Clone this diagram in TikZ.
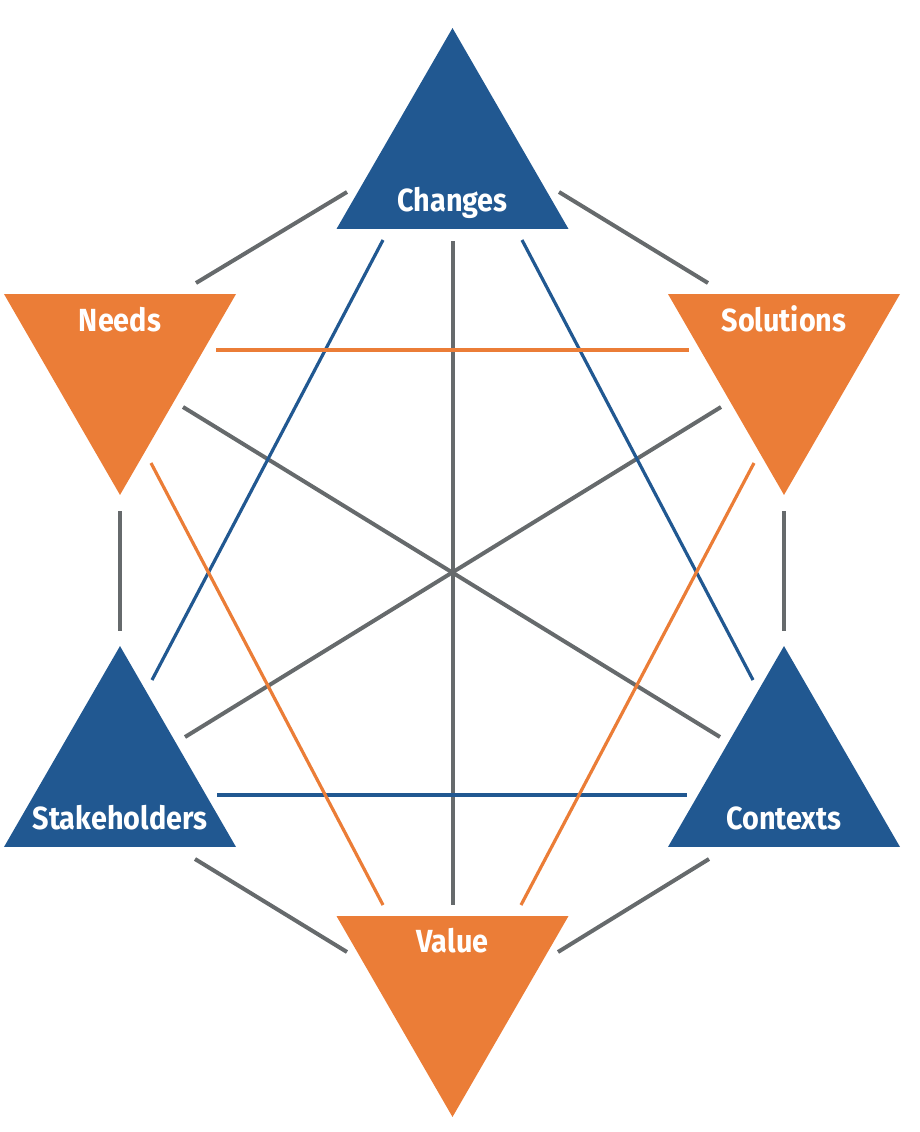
\documentclass[tikz,border=0pt]{standalone}
\usepackage{fontspec}
\setmainfont{Fira Sans}[FakeStretch=0.9]
\usetikzlibrary{shapes.geometric}
\definecolor{tblue}{HTML}{215891}
\definecolor{torange}{HTML}{EB7D37}
\definecolor{tgray}{HTML}{666A6C}
\tikzset{
  tri/.style={regular polygon, regular polygon sides=3, minimum size=267.9pt, inner sep=0pt, outer sep=0pt, draw=none},
  triup/.style={tri},
  tridown/.style={tri, shape border rotate=180},
  lbl/.style={anchor=base, text=white, inner sep=0pt, font=\fontsize{32}{38}\selectfont\bfseries},
  grayline/.style={draw=tgray, line width=4pt},
  blueline/.style={draw=tblue, line width=3.2pt},
  orangeline/.style={draw=torange, line width=3.2pt},
}
\begin{document}
\begin{tikzpicture}[x=1pt,y=-1pt]
\useasboundingbox (0,0) rectangle (920,1132);
% triangles
\node[triup, fill=tblue] (changes) at (452.5,162) {};
\node[tridown, fill=torange] (needs) at (120,361) {};
\node[tridown, fill=torange] (solutions) at (784,361) {};
\node[triup, fill=tblue] (stakeholders) at (120,780) {};
\node[triup, fill=tblue] (contexts) at (784,780) {};
\node[tridown, fill=torange] (value) at (452.5,983) {};
% labels
\node[lbl] (tchanges) at (452.5,211) {Changes};
\node[lbl] (tneeds) at (120,331) {Needs};
\node[lbl] (tsolutions) at (784,331) {Solutions};
\node[lbl] (tstake) at (120,829) {Stakeholders};
\node[lbl] (tcontexts) at (784,829) {Contexts};
\node[lbl] (tvalue) at (452.5,952) {Value};
% connector end points
\coordinate (chN) at (347,192); \coordinate (nCh) at (196,283);
\coordinate (chS) at (559,192); \coordinate (sCh) at (708,283);
\coordinate (nSt) at (120,511); \coordinate (stN) at (120,631);
\coordinate (sCo) at (784,511); \coordinate (coS) at (784,631);
\coordinate (stV) at (195,859); \coordinate (vSt) at (347,952);
\coordinate (coV) at (709,859); \coordinate (vCo) at (558,952);
\coordinate (chV) at (452.5,241); \coordinate (vCh) at (452.5,905);
\coordinate (nCo) at (183,407); \coordinate (coN) at (720,737);
\coordinate (sSt) at (721,407); \coordinate (stS) at (185,737);
\coordinate (chSt) at (383,240); \coordinate (stCh) at (152,680);
\coordinate (chCo) at (522,240); \coordinate (coCh) at (753,680);
\coordinate (stCo) at (217,795); \coordinate (coSt) at (687,795);
\coordinate (nS) at (216,350); \coordinate (sN) at (689,350);
\coordinate (nV) at (151,463); \coordinate (vN) at (383,905);
\coordinate (sV) at (754,463); \coordinate (vS) at (521,905);
% gray outer
\draw[grayline] (chN) -- (nCh);
\draw[grayline] (chS) -- (sCh);
\draw[grayline] (nSt) -- (stN);
\draw[grayline] (sCo) -- (coS);
\draw[grayline] (stV) -- (vSt);
\draw[grayline] (coV) -- (vCo);
% gray centre
\draw[grayline] (chV) -- (vCh);
\draw[grayline] (nCo) -- (coN);
\draw[grayline] (sSt) -- (stS);
% blue
\draw[blueline] (chSt) -- (stCh);
\draw[blueline] (chCo) -- (coCh);
\draw[blueline] (stCo) -- (coSt);
% orange
\draw[orangeline] (nS) -- (sN);
\draw[orangeline] (nV) -- (vN);
\draw[orangeline] (sV) -- (vS);
\end{tikzpicture}
\end{document}
